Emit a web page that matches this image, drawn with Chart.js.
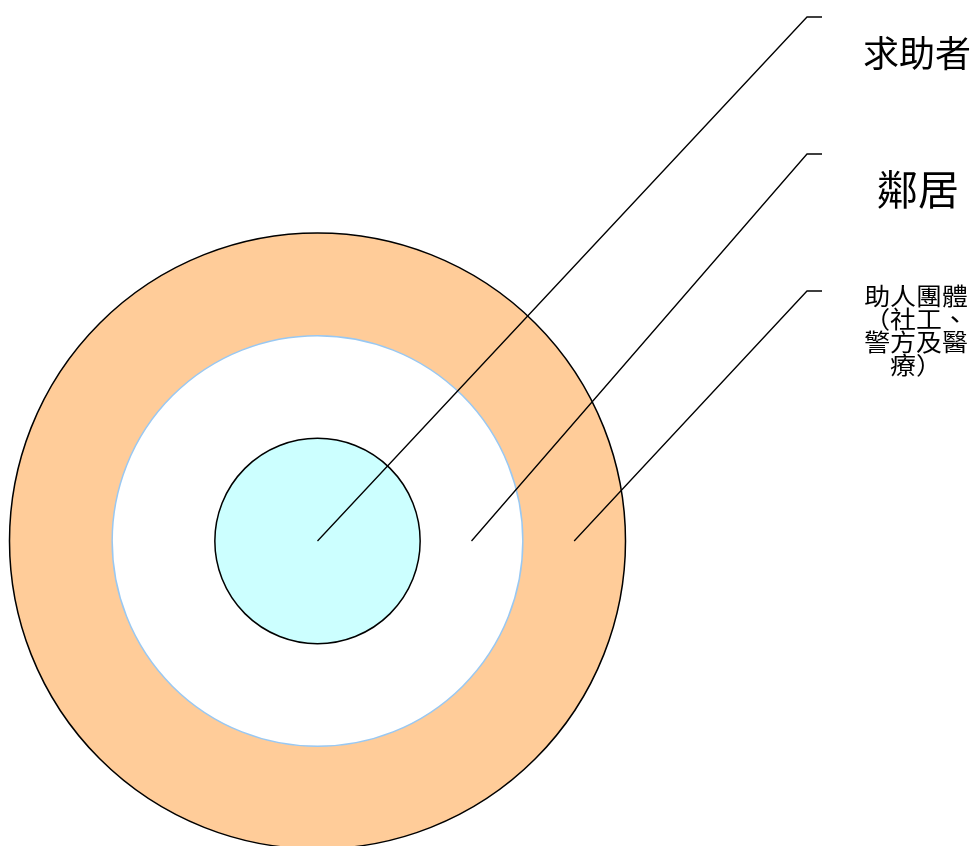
<!DOCTYPE html>
<html>
<head>
<meta charset="utf-8">
<script src="https://cdn.jsdelivr.net/npm/chart.js@4.4.0/dist/chart.umd.min.js"></script>
<style>
  html, body { margin: 0; padding: 0; background: #fff; overflow: hidden; }
  #wrap { position: absolute; left: 0; top: 0; width: 978px; height: 860px; }
</style>
</head>
<body>
<div id="wrap"><canvas id="rings"></canvas></div>
<script>
// rings, outermost first
const ringNames = ['助人團體（社工、警方及醫療）', '鄰居', '求助者'];
const ringValues = [1, 1, 1];
const ringFill = ['#FFCC99', '#FFFFFF', '#CCFFFF'];
const ringBorder = ['#000000', '#99C8F2', '#000000'];

// text shown next to each leader line (one entry per text row)
const labelRows = [
    ['助人團體', '（社工、', '警方及醫', '療）'],
    ['鄰居'],
    ['求助者']
];

// full-circle arcs get a seam line from Chart.js's border, so the
// outlines are stroked here from each arc's own centre and radius
const outlinePlugin = {
    id: 'outlines',
    afterDatasetsDraw(chart) {
        const ctx = chart.ctx;
        ctx.save();
        ctx.lineWidth = 1.5;
        chart.data.datasets.forEach((ds, i) => {
            const arc = chart.getDatasetMeta(i).data[0];
            ctx.strokeStyle = ringBorder[i];
            ctx.beginPath();
            ctx.arc(arc.x, arc.y, arc.outerRadius, 0, Math.PI * 2);
            ctx.stroke();
        });
        ctx.restore();
    }
};

// leader lines + labels on the right
const calloutPlugin = {
    id: 'callouts',
    afterDraw(chart) {
        const ctx = chart.ctx;
        const cornerX = 807, endX = 822;
        const cornerY = [291, 154, 17];
        const textX = [916, 918, 917];
        const textY = [296, 189, 53];
        const fontSize = [24, 41, 36];
        const rowGap = [23, 0, 0];
        const stretch = [1.08, 1, 1];

        ctx.save();
        ctx.strokeStyle = '#000';
        ctx.lineWidth = 1.3;
        chart.data.datasets.forEach((ds, i) => {
            const arc = chart.getDatasetMeta(i).data[0];
            const r = arc.innerRadius > 0 ? (arc.innerRadius + arc.outerRadius) / 2 : 0;
            ctx.beginPath();
            ctx.moveTo(arc.x + r, arc.y);
            ctx.lineTo(cornerX, cornerY[i]);
            ctx.lineTo(endX, cornerY[i]);
            ctx.stroke();

            ctx.fillStyle = '#000';
            ctx.textAlign = 'center';
            ctx.textBaseline = 'middle';
            ctx.font = fontSize[i] + 'px "Noto Sans CJK TC", sans-serif';
            labelRows[i].forEach((row, k) => {
                ctx.save();
                ctx.translate(textX[i], textY[i] + k * rowGap[i]);
                ctx.scale(stretch[i], 1);
                ctx.fillText(row, 0, 0);
                ctx.restore();
            });
        });
        ctx.restore();
    }
};

new Chart(document.getElementById('rings'), {
    type: 'pie',
    data: {
        labels: ['ring'],
        datasets: ringNames.map((name, i) => ({
            label: name,
            data: [ringValues[i]],
            backgroundColor: ringFill[i],
            borderWidth: 0
        }))
    },
    options: {
        responsive: true,
        maintainAspectRatio: false,
        animation: false,
        layout: {
            padding: { left: 9, right: 352, top: 233, bottom: 11 }
        },
        plugins: {
            legend: { display: false },
            tooltip: { enabled: false }
        }
    },
    plugins: [outlinePlugin, calloutPlugin]
});
</script>
</body>
</html>
